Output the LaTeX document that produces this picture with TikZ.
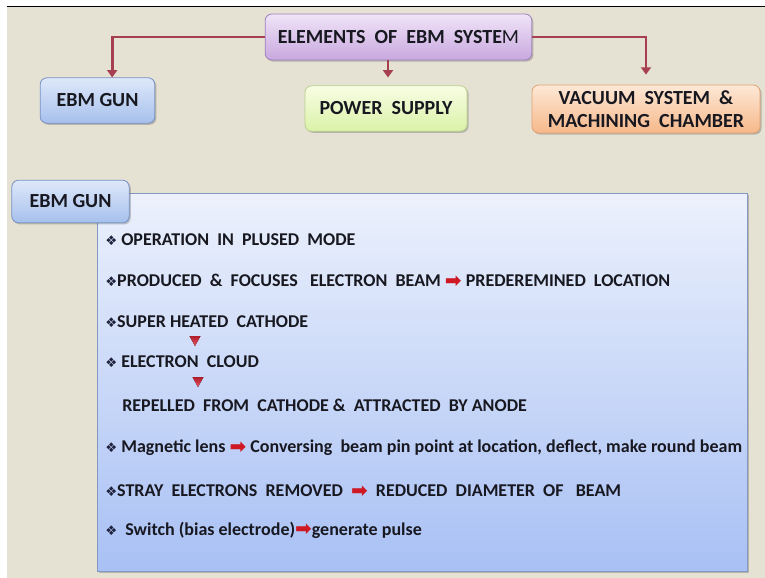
\documentclass[tikz,border=0pt]{standalone}
\usepackage{fontspec}
\setmainfont{Carlito}
\newfontfamily\symfont{DejaVu Sans}
\usetikzlibrary{arrows.meta,shadows,shadings}

\definecolor{bgbeige}{RGB}{229,225,211}
\definecolor{linkred}{RGB}{166,64,80}
\definecolor{arrowred}{RGB}{206,24,36}
\definecolor{bulletnavy}{RGB}{30,34,60}
\definecolor{txt}{RGB}{24,24,32}
\definecolor{titletop}{RGB}{240,228,248}
\definecolor{titlebot}{RGB}{200,168,222}
\definecolor{titleline}{RGB}{160,128,188}
\definecolor{bluetop}{RGB}{222,232,250}
\definecolor{bluebot}{RGB}{166,192,236}
\definecolor{blueline}{RGB}{120,146,196}
\definecolor{greentop}{RGB}{248,253,228}
\definecolor{greenbot}{RGB}{218,242,168}
\definecolor{greenline}{RGB}{186,208,140}
\definecolor{orangetop}{RGB}{253,232,214}
\definecolor{orangebot}{RGB}{246,184,138}
\definecolor{orangeline}{RGB}{224,160,112}
\definecolor{paneltop}{RGB}{236,241,252}
\definecolor{panelbot}{RGB}{168,192,244}
\definecolor{panelline}{RGB}{132,152,196}

\newcommand{\bul}{{\color{bulletnavy}\symfont\fontsize{10}{10}\selectfont ❖}}
\newcommand{\rarr}{\raisebox{-0.5pt}{\color{arrowred}\symfont\fontsize{15}{15}\selectfont ➡}}

\tikzset{
  softshadow/.style={drop shadow={shadow xshift=1.2pt,shadow yshift=-1.2pt,opacity=0.3,fill=black!70}},
  headbox/.style={rounded corners=5pt,inner sep=0pt,align=center,
    font=\fontsize{15}{17}\selectfont\bfseries,text=txt,line width=0.6pt,softshadow},
  titlebox/.style={headbox,top color=titletop,bottom color=titlebot,draw=titleline},
  bluebox/.style={headbox,top color=bluetop,bottom color=bluebot,draw=blueline},
  greenbox/.style={headbox,top color=greentop,bottom color=greenbot,draw=greenline},
  orangebox/.style={headbox,top color=orangetop,bottom color=orangebot,draw=orangeline},
  panel/.style={inner sep=0pt,top color=paneltop,bottom color=panelbot,draw=panelline,
    line width=0.6pt,softshadow},
  link/.style={draw=linkred,line width=2.2pt,
    -{Triangle[width=7.5pt,length=5.5pt,fill=linkred]}},
  itemline/.style={anchor=west,inner sep=0pt,text=txt,
    font=\fontsize{13.5}{15}\selectfont\bfseries},
  redtri/.style={top color={rgb,255:red,176;green,28;blue,44},
    bottom color={rgb,255:red,232;green,84;blue,96}}
}

\begin{document}
\begin{tikzpicture}[x=0.75pt,y=-0.75pt]
\useasboundingbox (0,0) rectangle (765,578);
% page ground and top rule
\fill[white] (0,0) rectangle (765,578);
\fill[bgbeige] (7,7) rectangle (765,578);
\draw[black,line width=1.2pt] (7,6.5) -- (765,6.5);

% overview: the system and its three elements
\node[titlebox,minimum width=200pt,minimum height=34.5pt] (title) at (398.5,37)
  {ELEMENTS~~OF~~EBM~~SYSTE\mdseries M};
\node[bluebox,minimum width=86pt,minimum height=34pt] (gun) at (97.5,100.5) {EBM GUN};
\node[greenbox,minimum width=121.5pt,minimum height=34pt] (power) at (386,108.5)
  {POWER~~SUPPLY};
\node[orangebox,minimum width=171pt,minimum height=36pt] (vac) at (646,109)
  {VACUUM~~SYSTEM~~\&\\MACHINING~~CHAMBER};

\draw[link] (title.west) -| ([xshift=11pt]gun.north);
\draw[link] ([xshift=1.5pt]power.north |- title.south) -- ([xshift=1.5pt,yshift=6pt]power.north);
\draw[link] (title.east) -| ([yshift=7.5pt]vac.north);

% detail panel for the gun
\node[panel,minimum width=488pt,minimum height=284pt] (big) at (422.5,382.5) {};
\node[bluebox,minimum width=88pt,minimum height=32pt] (tab) at (70.5,201.5) {EBM GUN};

\node[itemline] (l1) at (105,240) {\bul\ OPERATION~~IN~~PLUSED~~MODE};
\node[itemline] (l2) at (105,281)
  {\bul PRODUCED~~\&~~FOCUSES~~~ELECTRON~~BEAM \rarr\ PREDEREMINED~~LOCATION};
\node[itemline] (l3) at (105,322) {\bul SUPER HEATED~~CATHODE};
\node[itemline] (l4) at (105,362) {\bul\ ELECTRON~~CLOUD};
\node[itemline] (l5) at (122,405) {REPELLED~~FROM~~CATHODE \&~~ATTRACTED~~BY ANODE};
\node[itemline] (l6) at (105,448)
  {\bul\ Magnetic lens \rarr\ Conversing~~beam pin point at location, deflect, make round beam};
\node[itemline] (l7) at (105,491)
  {\bul STRAY~~ELECTRONS~~REMOVED~~\rarr~~REDUCED~~DIAMETER~~OF~~~BEAM};
\node[itemline] (l8) at (105,530) {\bul~~Switch (bias electrode)\rarr generate pulse};

% small red pointers between the steps
\coordinate (t1) at (195,341);
\coordinate (t2) at (198,382);
\fill[redtri] ([shift={(-5.5,-5)}]t1) -- ([shift={(5.5,-5)}]t1) -- ([shift={(0,5)}]t1) -- cycle;
\fill[redtri] ([shift={(-5.5,-5)}]t2) -- ([shift={(5.5,-5)}]t2) -- ([shift={(0,5)}]t2) -- cycle;
\end{tikzpicture}
\end{document}
